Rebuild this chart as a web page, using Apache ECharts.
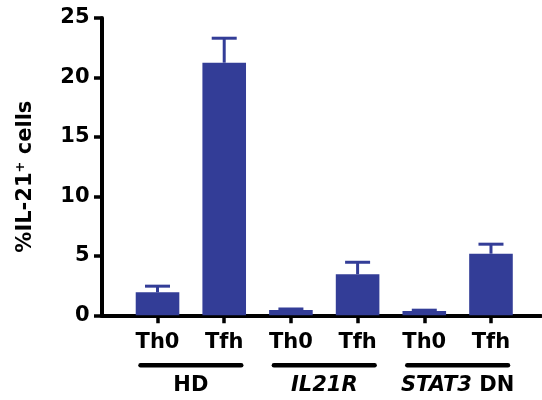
<!DOCTYPE html>
<html>
<head>
<meta charset="utf-8">
<script src="https://cdn.jsdelivr.net/npm/echarts@6/dist/echarts.min.js"></script>
<style>
html,body{margin:0;padding:0;background:#fff;}
#chart{width:542px;height:400px;}
</style>
</head>
<body>
<div id="chart"></div>
<script>
// ---- data ----
var categories = ['Th0', 'Tfh', 'Th0', 'Tfh', 'Th0', 'Tfh'];
var means = [1.93, 21.24, 0.45, 3.45, 0.36, 5.18];
var errors = [0.52, 2.06, 0.08, 1.01, 0.07, 0.8];
var groupNames = ['HD', '{i|IL21R}', '{i|STAT3} DN'];
var groupSpans = [[0, 1], [2, 3], [4, 5]];
var yTicks = [0, 5, 10, 15, 20, 25];

var BLUE = '#333d97';
var FONT = 'DejaVu Sans';

var positions = categories.map(function (c, i) { return i; });
var barData = positions.map(function (p, i) { return [p, means[i]]; });
var errData = positions.map(function (p, i) { return [p, means[i], errors[i]]; });
var groupData = groupSpans.map(function (s, i) { return [s[0], s[1], i]; });

var chart = echarts.init(document.getElementById('chart'), null, {renderer: 'canvas'});

var option = {
  backgroundColor: '#ffffff',
  animation: false,
  grid: {left: 101.5, right: 1, top: 18, bottom: 84.7, containLabel: false},
  xAxis: {
    type: 'value',
    min: -0.84,
    max: 5.75,
    splitLine: {show: false},
    axisLine: {show: true, onZero: false, lineStyle: {color: '#000', width: 4}},
    axisTick: {show: true, customValues: positions, length: 8, lineStyle: {color: '#000', width: 3.5}},
    axisLabel: {
      show: true, customValues: positions, margin: 17,
      formatter: function (v) { return categories[Math.round(v)]; },
      color: '#000', fontFamily: FONT, fontWeight: 'bold', fontSize: 21
    }
  },
  yAxis: {
    type: 'value',
    min: yTicks[0],
    max: yTicks[yTicks.length - 1],
    interval: 5,
    splitLine: {show: false},
    axisLine: {show: true, onZero: false, lineStyle: {color: '#000', width: 4}},
    axisTick: {show: true, length: 7.5, lineStyle: {color: '#000', width: 3.5}},
    axisLabel: {
      margin: 12, color: '#000', fontFamily: FONT, fontWeight: 'bold', fontSize: 21
    },
    name: '{a|%IL-21}{s|+}{a| cells}',
    nameLocation: 'middle',
    nameRotate: 90,
    nameGap: 64,
    nameTextStyle: {
      padding: [0, 20, 0, 0],
      rich: {
        a: {fontFamily: FONT, fontWeight: 'bold', fontSize: 21, color: '#000'},
        s: {fontFamily: FONT, fontWeight: 'bold', fontSize: 13, color: '#000', verticalAlign: 'top', padding: [0, 0, 10, 0]}
      }
    }
  },
  series: [
    {
      type: 'bar',
      data: barData,
      barWidth: 43.6,
      itemStyle: {color: BLUE},
      z: 1
    },
    {
      type: 'custom',
      data: errData,
      z: 3,
      clip: false,
      renderItem: function (params, api) {
        var x = api.value(0), m = api.value(1), e = api.value(2);
        var base = api.coord([x, m]);
        var top = api.coord([x, m + e]);
        var half = 12.5;
        return {
          type: 'group',
          children: [
            {type: 'line', shape: {x1: base[0], y1: base[1], x2: top[0], y2: top[1]},
             style: {stroke: BLUE, lineWidth: 3}},
            {type: 'line', shape: {x1: top[0] - half, y1: top[1], x2: top[0] + half, y2: top[1]},
             style: {stroke: BLUE, lineWidth: 3}}
          ]
        };
      }
    },
    {
      type: 'custom',
      data: groupData,
      clip: false,
      silent: true,
      z: 3,
      renderItem: function (params, api) {
        var p0 = api.coord([api.value(0), 0]);
        var p1 = api.coord([api.value(1), 0]);
        var idx = api.value(2);
        var y = p0[1] + 50;
        var cx = (p0[0] + p1[0]) / 2;
        return {
          type: 'group',
          children: [
            {type: 'line', shape: {x1: p0[0] - 17, y1: y, x2: p1[0] + 17, y2: y},
             style: {stroke: '#000', lineWidth: 4.5, lineCap: 'round'}},
            {type: 'text', x: cx, y: y + 20,
             style: {
               text: groupNames[idx], align: 'center', verticalAlign: 'middle',
               fontFamily: FONT, fontWeight: 'bold', fontSize: 21, fill: '#000',
               rich: {i: {fontFamily: FONT, fontWeight: 'bold', fontStyle: 'italic', fontSize: 21, fill: '#000'}}
             }}
          ]
        };
      }
    }
  ]
};
chart.setOption(option);
</script>
</body>
</html>
